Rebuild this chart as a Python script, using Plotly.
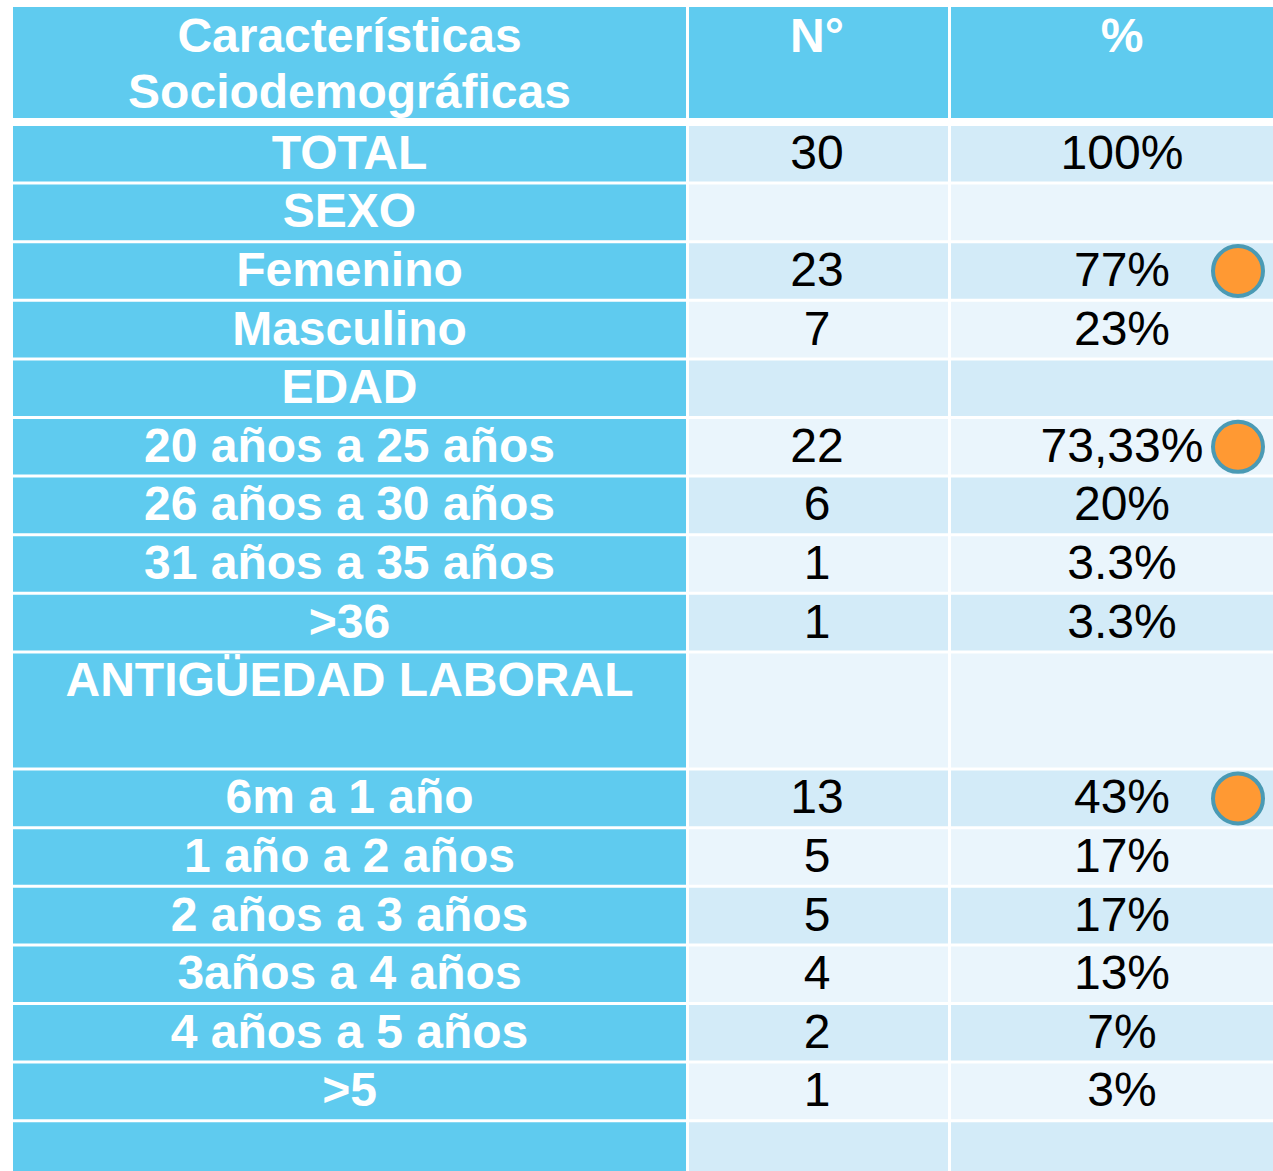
import plotly.graph_objects as go

# ---------------- data ----------------
header_labels = ["Características<br>Sociodemográficas", "N°", "%"]
row_labels = ["TOTAL", "SEXO", "Femenino", "Masculino", "EDAD",
              "20 años a 25 años", "26 años a 30 años", "31 años a 35 años", ">36",
              "ANTIGÜEDAD LABORAL",
              "6m a 1 año", "1 año a 2 años", "2 años a 3 años", "3años a 4 años",
              "4 años a 5 años", ">5", ""]
counts = [30, None, 23, 7, None, 22, 6, 1, 1, None, 13, 5, 5, 4, 2, 1, None]
percents = ["100%", "", "77%", "23%", "", "73,33%", "20%", "3.3%", "3.3%", "",
            "43%", "17%", "17%", "13%", "7%", "3%", ""]
row_units = [1, 1, 1, 1, 1, 1, 1, 1, 1, 2, 1, 1, 1, 1, 1, 1, 1]
highlighted = ["Femenino", "20 años a 25 años", "6m a 1 año"]

# ---------------- layout constants ----------------
W, H = 1273, 1171
col_edges = [13, 686, 948, 1296]
gap = 3
header_top, header_bottom = 7, 118
header_line_y0, header_line_step = 40, 56
body_top = 126
unit = 58.6
text_dy = 3
HEAD = "#5FCBEF"
DARK = "#D3EBF8"
LIGHT = "#EAF5FC"
FONT = "Liberation Sans"
FS = 48

shapes = []

# header cells
for c in range(3):
    x0 = col_edges[c] + (gap if c > 0 else 0)
    x1 = col_edges[c + 1]
    shapes.append(dict(type="rect", xref="x", yref="y", x0=x0, x1=x1,
                       y0=header_top, y1=header_bottom, fillcolor=HEAD,
                       line=dict(width=0), layer="below"))

# body cells
row_tops = []
cum = 0
for i, u in enumerate(row_units):
    top = body_top + cum * unit
    bottom = top + u * unit - gap
    row_tops.append(top)
    cum += u
    fills = [HEAD, DARK if i % 2 == 0 else LIGHT, DARK if i % 2 == 0 else LIGHT]
    for c in range(3):
        x0 = col_edges[c] + (gap if c > 0 else 0)
        x1 = col_edges[c + 1]
        shapes.append(dict(type="rect", xref="x", yref="y", x0=x0, x1=x1,
                           y0=top, y1=bottom, fillcolor=fills[c],
                           line=dict(width=0), layer="below"))

centers_x = [(col_edges[c] + col_edges[c + 1]) / 2 for c in range(3)]
text_y = [t + (unit - gap) / 2 + text_dy for t in row_tops]

fig = go.Figure()

# header text (one text mark per line)
hx, hy_, ht = [], [], []
for c, lbl in enumerate(header_labels):
    for k, line in enumerate(lbl.split("<br>")):
        hx.append(centers_x[c])
        hy_.append(header_line_y0 + k * header_line_step)
        ht.append(line)
fig.add_trace(go.Scatter(
    x=hx, y=hy_, mode="text", text=ht,
    textposition="middle center",
    textfont=dict(family=FONT, size=FS, color="white", weight="bold"),
    hoverinfo="skip", showlegend=False))

# first column labels
fig.add_trace(go.Scatter(
    x=[centers_x[0]] * len(row_labels), y=text_y, mode="text", text=row_labels,
    textposition="middle center",
    textfont=dict(family=FONT, size=FS, color="white", weight="bold"),
    hoverinfo="skip", showlegend=False))

# counts
fig.add_trace(go.Scatter(
    x=[centers_x[1]] * len(counts), y=text_y, mode="text",
    text=["" if v is None else str(v) for v in counts],
    textposition="middle center",
    textfont=dict(family=FONT, size=FS, color="black"),
    hoverinfo="skip", showlegend=False))

# percents
fig.add_trace(go.Scatter(
    x=[centers_x[2]] * len(percents), y=text_y, mode="text", text=percents,
    textposition="middle center",
    textfont=dict(family=FONT, size=FS, color="black"),
    hoverinfo="skip", showlegend=False))

# highlight circles
hy = [text_y[row_labels.index(lbl)] - text_dy for lbl in highlighted]
fig.add_trace(go.Scatter(
    x=[1238] * len(hy), y=hy, mode="markers",
    marker=dict(size=50, color="#FF9933", line=dict(color="#4A9AB4", width=4)),
    hoverinfo="skip", showlegend=False))

fig.update_layout(
    width=W, height=H, margin=dict(l=0, r=0, t=0, b=0),
    paper_bgcolor="white", plot_bgcolor="white",
    shapes=shapes,
    xaxis=dict(range=[0, W], visible=False, fixedrange=True),
    yaxis=dict(range=[H, 0], visible=False, fixedrange=True),
)

fig.write_html(
    "out.html",
    config={"displayModeBar": False},
    post_script="document.body.style.margin='0';document.body.style.overflow='hidden';",
)
